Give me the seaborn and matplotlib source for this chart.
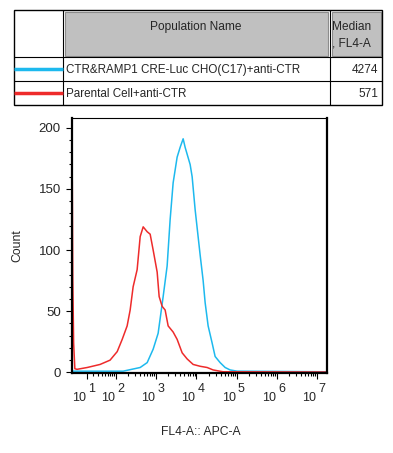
import numpy as np
import pandas as pd
import seaborn as sns
import matplotlib.pyplot as plt
from matplotlib.patches import Rectangle
from matplotlib.ticker import FixedLocator, NullFormatter
from matplotlib.transforms import blended_transform_factory, offset_copy

# populations shown in the table / legend
populations = ["CTR&RAMP1 CRE-Luc CHO(C17)+anti-CTR", "Parental Cell+anti-CTR"]
medians = ["4274", "571"]
colors = ["#1DB9EE", "#EE2B2B"]

# histogram (FL4-A value, count)
blue_fl4 = [-14, 150, 400, 597, 841, 1118, 1489, 1869, 2220, 2635,
            3311, 3930, 4670, 5233, 6960, 7808, 9270, 12335, 14650, 16416,
            19480, 24480, 29050, 38660, 51460, 68450, 102000, 1.7e7]
blue_count = [1, 1, 4, 8, 19, 32, 62, 87, 125, 155,
              176, 184, 191, 184, 170, 160, 133, 96, 75, 57,
              38, 24, 13, 8, 4, 2, 1, 0.5]

red_fl4 = [-13.8, -13.0, -11.5, -9.5, -6, 10, 36, 69, 106, 142,
           189, 225, 267, 336, 400, 475, 597, 708, 841, 1057,
           1184, 1406, 1668, 1981, 2635, 3311, 4410, 5867, 8267, 12335,
           18400, 25920, 45870, 1.7e7]
red_count = [157, 78, 24, 3, 2.5, 4, 6.5, 10, 17, 27,
             38, 51, 70, 84, 111, 119, 115, 113, 100, 82,
             62, 54, 51, 38, 33, 27, 16, 11, 6.5, 5,
             4, 2, 0.5, 0.3]

decades = [1, 2, 3, 4, 5, 6, 7]
y_ticks = [0, 50, 100, 150, 200]

df = pd.concat([
    pd.DataFrame({"fl4": blue_fl4, "count": blue_count, "pop": populations[0]}),
    pd.DataFrame({"fl4": red_fl4, "count": red_count, "pop": populations[1]}),
])

sns.set_style("ticks")
plt.rcParams['font.family'] = ['Liberation Sans', 'DejaVu Sans']

fig = plt.figure(figsize=(3.93, 4.53), dpi=100)
ax = fig.add_axes([72 / 393, 1 - 373 / 453, 255 / 393, 255 / 453])

sns.lineplot(data=df, x="fl4", y="count", hue="pop", palette=colors,
             estimator=None, sort=False, legend=False, linewidth=1.1, ax=ax)

# biexponential-like display (arcsinh)
w = 27.0
ax.set_xscale('function', functions=(lambda x: np.arcsinh(x / w), lambda y: w * np.sinh(y)))
ax.set_xlim(-14.3, 1.74e7)
ax.set_ylim(-0.5, 208)

ax.xaxis.set_major_locator(FixedLocator([10.0 ** d for d in decades]))
ax.xaxis.set_major_formatter(NullFormatter())
ax.xaxis.set_minor_locator(FixedLocator([k * 10.0 ** d for d in range(1, 7) for k in range(2, 10)]))
ax.xaxis.set_minor_formatter(NullFormatter())
ax.set_yticks(y_ticks)
ax.set_yticks(np.arange(0, 210, 10), minor=True)

ax.tick_params(axis='both', which='major', length=4, width=0.8, labelsize=9.5, color='black', pad=2)
ax.tick_params(axis='y', which='major', pad=4)
ax.tick_params(axis='both', which='minor', length=2.5, width=0.8, color='black')
for side in ['left', 'bottom', 'right']:
    ax.spines[side].set_linewidth(1.6)
ax.spines['top'].set_linewidth(0.8)
for sp in ax.spines.values():
    sp.set_color('black')
ax.set_xlabel("")
ax.set_ylabel("")

# decade labels: "10" left of the tick, exponent raised to the right
blend = blended_transform_factory(ax.transData, ax.transAxes)
for d in decades:
    base_tr = offset_copy(blend, fig=fig, x=-1, y=-28, units='dots')
    exp_tr = offset_copy(blend, fig=fig, x=1, y=-19, units='dots')
    ax.text(10.0 ** d, 0, "10", transform=base_tr, ha='right', va='baseline', fontsize=9)
    ax.text(10.0 ** d, 0, str(d), transform=exp_tr, ha='left', va='baseline', fontsize=9)

fig.text(17 / 393, 1 - 246 / 453, "Count", rotation=90, ha='center', va='center', fontsize=8.8)
fig.text(201 / 393, 1 - 432 / 453, "FL4-A:: APC-A", ha='center', va='center', fontsize=8.7)

# population table on top (pixel coordinates)
tab = fig.add_axes([0, 0, 1, 1], zorder=-1)
tab.set_xlim(0, 393)
tab.set_ylim(453, 0)
tab.axis('off')

tab.add_patch(Rectangle((65, 12), 263, 44, facecolor='#C0C0C0', edgecolor='#8C8C8C', lw=0.8))
tab.add_patch(Rectangle((332, 12), 49, 44, facecolor='#C0C0C0', edgecolor='#8C8C8C', lw=0.8))
tab.add_patch(Rectangle((14, 10), 368, 95, facecolor='none', edgecolor='black', lw=1))
for xv in [63, 330]:
    tab.plot([xv, xv], [10, 105], color='black', lw=0.8)
for yv in [57, 81]:
    tab.plot([14, 382], [yv, yv], color='black', lw=0.8)

tab.text(196, 27, "Population Name", ha='center', va='center', fontsize=8.6)
tab.text(332, 27, "Median", ha='left', va='center', fontsize=8.6)
tab.text(332, 44, ", FL4-A", ha='left', va='center', fontsize=8.6)

row_y = [69, 93]
for name, med, col, yv in zip(populations, medians, colors, row_y):
    tab.plot([14, 63], [yv, yv], color=col, lw=2.5, solid_capstyle='butt')
    tab.text(66, yv + 1, name, ha='left', va='center', fontsize=8.4)
    tab.text(378, yv + 1, med, ha='right', va='center', fontsize=8.6)

fig.savefig("out.png", dpi=100)
